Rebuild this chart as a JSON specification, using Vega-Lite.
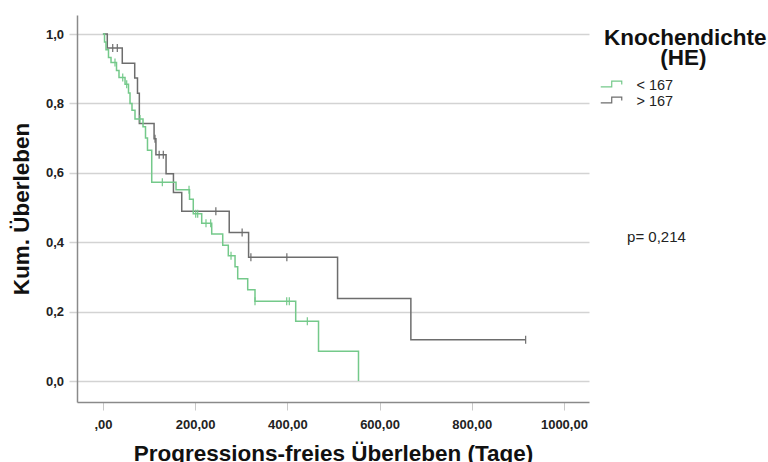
{
  "$schema": "https://vega.github.io/schema/vega-lite/v6.json",
  "width": 512,
  "height": 387,
  "autosize": "none",
  "padding": {"left": 77, "top": 15, "right": 179, "bottom": 60},
  "background": "white",
  "config": {"view": {"stroke": null}, "font": "Liberation Sans"},
  "datasets": {
    "curves": [
      {"g": "> 167", "t": 0, "s": 1.0},
      {"g": "> 167", "t": 9.5, "s": 0.96},
      {"g": "> 167", "t": 42, "s": 0.916},
      {"g": "> 167", "t": 69, "s": 0.873},
      {"g": "> 167", "t": 75, "s": 0.829},
      {"g": "> 167", "t": 79, "s": 0.742},
      {"g": "> 167", "t": 111, "s": 0.698},
      {"g": "> 167", "t": 115, "s": 0.652},
      {"g": "> 167", "t": 137, "s": 0.597},
      {"g": "> 167", "t": 153, "s": 0.543},
      {"g": "> 167", "t": 171, "s": 0.489},
      {"g": "> 167", "t": 274, "s": 0.428},
      {"g": "> 167", "t": 316, "s": 0.357},
      {"g": "> 167", "t": 509, "s": 0.238},
      {"g": "> 167", "t": 668, "s": 0.119},
      {"g": "> 167", "t": 917, "s": 0.119},
      {"g": "< 167", "t": 0, "s": 1.0},
      {"g": "< 167", "t": 3.5, "s": 0.977},
      {"g": "< 167", "t": 6.7, "s": 0.955},
      {"g": "< 167", "t": 12.1, "s": 0.932},
      {"g": "< 167", "t": 17.6, "s": 0.918},
      {"g": "< 167", "t": 29.5, "s": 0.895},
      {"g": "< 167", "t": 34.9, "s": 0.875},
      {"g": "< 167", "t": 48, "s": 0.855},
      {"g": "< 167", "t": 55.5, "s": 0.83},
      {"g": "< 167", "t": 58.8, "s": 0.8},
      {"g": "< 167", "t": 63.1, "s": 0.78},
      {"g": "< 167", "t": 69.6, "s": 0.755},
      {"g": "< 167", "t": 87, "s": 0.733},
      {"g": "< 167", "t": 92.4, "s": 0.7},
      {"g": "< 167", "t": 96.7, "s": 0.665},
      {"g": "< 167", "t": 105.9, "s": 0.573},
      {"g": "< 167", "t": 158.6, "s": 0.551},
      {"g": "< 167", "t": 187.9, "s": 0.524},
      {"g": "< 167", "t": 196, "s": 0.482},
      {"g": "< 167", "t": 214.3, "s": 0.455},
      {"g": "< 167", "t": 236, "s": 0.424},
      {"g": "< 167", "t": 259.9, "s": 0.391},
      {"g": "< 167", "t": 272, "s": 0.361},
      {"g": "< 167", "t": 286.6, "s": 0.329},
      {"g": "< 167", "t": 292.4, "s": 0.295},
      {"g": "< 167", "t": 314.1, "s": 0.263},
      {"g": "< 167", "t": 329.9, "s": 0.23},
      {"g": "< 167", "t": 418.2, "s": 0.172},
      {"g": "< 167", "t": 467.7, "s": 0.086},
      {"g": "< 167", "t": 554.4, "s": 0.0}
    ],
    "censored": [
      {"g": "> 167", "t": 21.3, "s": 0.96},
      {"g": "> 167", "t": 31.2, "s": 0.96},
      {"g": "> 167", "t": 113, "s": 0.698},
      {"g": "> 167", "t": 122, "s": 0.652},
      {"g": "> 167", "t": 131, "s": 0.652},
      {"g": "> 167", "t": 245, "s": 0.489},
      {"g": "> 167", "t": 302, "s": 0.428},
      {"g": "> 167", "t": 321, "s": 0.357},
      {"g": "> 167", "t": 399, "s": 0.357},
      {"g": "> 167", "t": 917, "s": 0.119},
      {"g": "< 167", "t": 26.2, "s": 0.918},
      {"g": "< 167", "t": 43, "s": 0.875},
      {"g": "< 167", "t": 51.6, "s": 0.855},
      {"g": "< 167", "t": 80.5, "s": 0.755},
      {"g": "< 167", "t": 128.9, "s": 0.573},
      {"g": "< 167", "t": 186.8, "s": 0.551},
      {"g": "< 167", "t": 201.3, "s": 0.482},
      {"g": "< 167", "t": 205.6, "s": 0.482},
      {"g": "< 167", "t": 223.6, "s": 0.455},
      {"g": "< 167", "t": 233.8, "s": 0.455},
      {"g": "< 167", "t": 277.9, "s": 0.361},
      {"g": "< 167", "t": 329.9, "s": 0.23},
      {"g": "< 167", "t": 398.7, "s": 0.23},
      {"g": "< 167", "t": 404.3, "s": 0.23},
      {"g": "< 167", "t": 443.4, "s": 0.172}
    ],
    "note": [
      {"label": "p= 0,214", "t": 1137, "s": 0.401}
    ]
  },
  "layer": [
    {
      "data": {"name": "curves"},
      "mark": {"type": "line", "interpolate": "step-after", "strokeWidth": 1.5},
      "encoding": {
        "x": {
          "field": "t", "type": "quantitative",
          "scale": {"domain": [-56.2, 1054.4], "nice": false, "zero": false},
          "axis": {
            "values": [0, 200, 400, 600, 800, 1000],
            "labelExpr": "datum.value == 0 ? ',00' : replace(format(datum.value, '.2f'), '.', ',')",
            "title": "Progressions-freies Überleben (Tage)",
            "grid": false,
            "domainColor": "#8a8a8a", "domainWidth": 1.5,
            "tickColor": "#c8c8c8", "tickSize": 8, "tickWidth": 1,
            "labelFont": "Liberation Sans", "labelFontWeight": "bold", "labelFontSize": 13, "labelColor": "#222222",
            "labelBaseline": "alphabetic", "labelPadding": 18, "labelFlush": false, "labelOverlap": false,
            "titleFont": "Liberation Sans", "titleFontSize": 22.5, "titleFontWeight": "bold", "titleColor": "#111111",
            "titleBaseline": "alphabetic", "titleY": 58.5, "titleX": 256, "titleAlign": "center"
          }
        },
        "y": {
          "field": "s", "type": "quantitative",
          "scale": {"domain": [-0.0605, 1.0548], "nice": false, "zero": false},
          "axis": {
            "values": [0, 0.2, 0.4, 0.6, 0.8, 1.0],
            "labelExpr": "replace(format(datum.value, '.1f'), '.', ',')",
            "title": "Kum. Überleben",
            "grid": true, "gridColor": "#d3d3d3", "gridWidth": 1.5,
            "domainColor": "#8a8a8a", "domainWidth": 1.5,
            "tickColor": "#d3d3d3", "tickSize": 8, "tickWidth": 1.5,
            "labelFont": "Liberation Sans", "labelFontWeight": "bold", "labelFontSize": 13, "labelColor": "#222222",
            "labelPadding": 5.5,
            "titleFont": "Liberation Sans", "titleFontSize": 22.5, "titleFontWeight": "bold", "titleColor": "#111111",
            "titleBaseline": "alphabetic", "titleAngle": -90, "titleX": -48.5, "titleY": 193.5, "titleAlign": "center"
          }
        },
        "color": {
          "field": "g", "type": "nominal",
          "scale": {"domain": ["< 167", "> 167"], "range": ["#74c98a", "#6d6d6d"]},
          "legend": {
            "orient": "none", "legendX": 527, "legendY": 12,
            "title": ["Knochendichte", "\u200b\u00a0\u00a0\u00a0\u00a0\u00a0\u00a0\u00a0\u00a0\u00a0(HE)"],
            "titleFont": "Liberation Sans", "titleFontSize": 22.5, "titleFontWeight": "bold", "titleColor": "#111111",
            "titleAlign": "left", "titleAnchor": "start", "titleLineHeight": 19.5, "titlePadding": 10,
            "symbolType": "M-1.75,0.1H0.08V-0.85H1.75V-0.3",
            "symbolSize": 144, "symbolStrokeWidth": 1.2,
            "labelFont": "Liberation Sans", "labelFontSize": 14.5, "labelColor": "#222222",
            "labelOffset": 18, "rowPadding": 1
          }
        }
      }
    },
    {
      "data": {"name": "censored"},
      "mark": {"type": "point", "shape": "M0,-1V1", "size": 64, "strokeWidth": 1.2, "filled": false, "opacity": 1},
      "encoding": {
        "x": {"field": "t", "type": "quantitative"},
        "y": {"field": "s", "type": "quantitative"},
        "color": {"field": "g", "type": "nominal", "legend": null}
      }
    },
    {
      "data": {"name": "note"},
      "mark": {"type": "text", "align": "left", "baseline": "alphabetic", "font": "Liberation Sans", "fontSize": 15, "color": "#222222"},
      "encoding": {
        "x": {"field": "t", "type": "quantitative"},
        "y": {"field": "s", "type": "quantitative"},
        "text": {"field": "label"}
      }
    }
  ]
}
